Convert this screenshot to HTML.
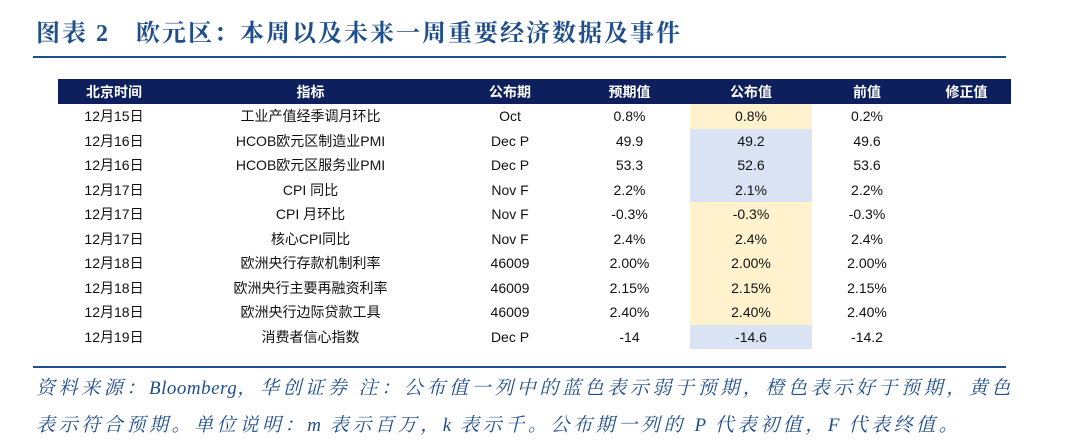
<!DOCTYPE html>
<html><head><meta charset="utf-8"><style>
body{margin:0;width:1080px;height:447px;background:#fff;position:relative;overflow:hidden;font-family:"Liberation Sans","Noto Sans CJK SC",sans-serif}
.t{position:absolute;left:36px;top:13px;font-family:"Liberation Serif","Noto Serif CJK SC",serif;font-size:24px;color:#1f4e8c;font-weight:bold;letter-spacing:2px;white-space:nowrap}
.ln{position:absolute;left:33px;width:973px;height:2px;background:#1f4e8c}
table{position:absolute;left:58px;top:79px;border-collapse:collapse;width:953px;font-size:14px;color:#111}
td{height:24.5px;padding:0;text-align:center;white-space:nowrap}
tr.h td{background:#0d1f5c;color:#fff;font-weight:bold;height:25px;font-size:14px}
.y{background:#fff2cc}.b{background:#dae3f3}
.n{position:absolute;left:36px;font-family:"Liberation Serif","Noto Serif CJK SC",serif;font-style:italic;font-size:19px;color:#1f4e8c;white-space:nowrap;letter-spacing:3.6px}
.n span{letter-spacing:0.5px}
</style></head><body>
<div class="t">图表 2　欧元区：本周以及未来一周重要经济数据及事件</div>
<div class="ln" style="top:56px"></div>
<table>
<colgroup><col style="width:112px"><col style="width:281px"><col style="width:118px"><col style="width:121px"><col style="width:122px"><col style="width:110px"><col style="width:89px"></colgroup>
<tr class="h"><td>北京时间</td><td>指标</td><td>公布期</td><td>预期值</td><td>公布值</td><td>前值</td><td>修正值</td></tr>
<tr><td>12月15日</td><td>工业产值经季调月环比</td><td>Oct</td><td>0.8%</td><td class="y">0.8%</td><td>0.2%</td><td></td></tr>
<tr><td>12月16日</td><td>HCOB欧元区制造业PMI</td><td>Dec P</td><td>49.9</td><td class="b">49.2</td><td>49.6</td><td></td></tr>
<tr><td>12月16日</td><td>HCOB欧元区服务业PMI</td><td>Dec P</td><td>53.3</td><td class="b">52.6</td><td>53.6</td><td></td></tr>
<tr><td>12月17日</td><td>CPI 同比</td><td>Nov F</td><td>2.2%</td><td class="b">2.1%</td><td>2.2%</td><td></td></tr>
<tr><td>12月17日</td><td>CPI 月环比</td><td>Nov F</td><td>-0.3%</td><td class="y">-0.3%</td><td>-0.3%</td><td></td></tr>
<tr><td>12月17日</td><td>核心CPI同比</td><td>Nov F</td><td>2.4%</td><td class="y">2.4%</td><td>2.4%</td><td></td></tr>
<tr><td>12月18日</td><td>欧洲央行存款机制利率</td><td>46009</td><td>2.00%</td><td class="y">2.00%</td><td>2.00%</td><td></td></tr>
<tr><td>12月18日</td><td>欧洲央行主要再融资利率</td><td>46009</td><td>2.15%</td><td class="y">2.15%</td><td>2.15%</td><td></td></tr>
<tr><td>12月18日</td><td>欧洲央行边际贷款工具</td><td>46009</td><td>2.40%</td><td class="y">2.40%</td><td>2.40%</td><td></td></tr>
<tr><td>12月19日</td><td>消费者信心指数</td><td>Dec P</td><td>-14</td><td class="b">-14.6</td><td>-14.2</td><td></td></tr>
</table>
<div class="ln" style="top:366px"></div>
<div class="n" style="top:373px">资料来源：<span>Bloomberg</span>，华创证券 注：公布值一列中的蓝色表示弱于预期，橙色表示好于预期，黄色</div>
<div class="n" style="top:410px">表示符合预期。单位说明：<span>m</span> 表示百万，<span>k</span> 表示千。公布期一列的 <span>P</span> 代表初值，<span>F</span> 代表终值。</div>
</body></html>
